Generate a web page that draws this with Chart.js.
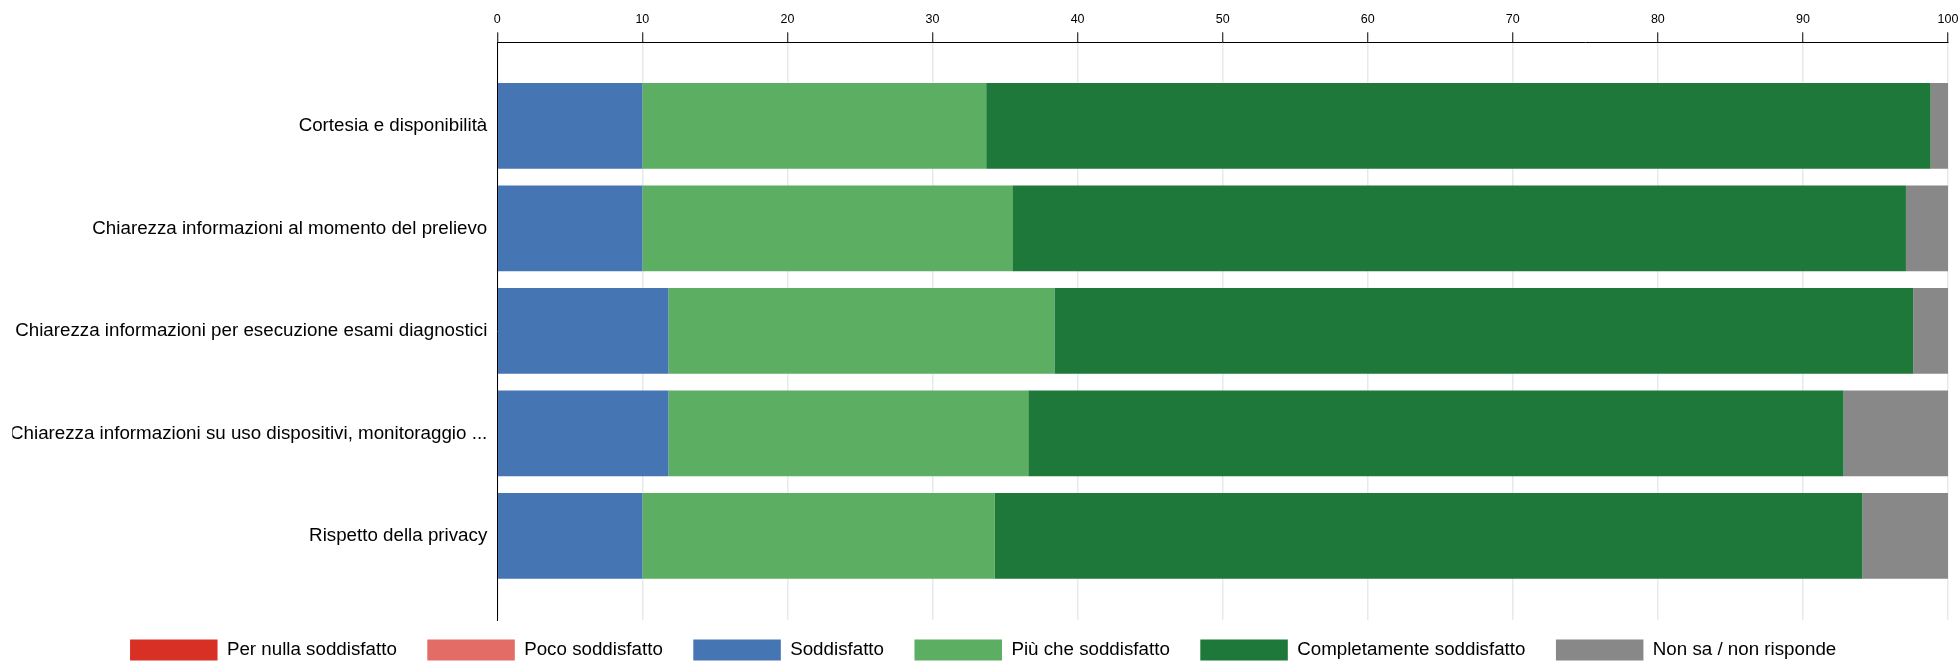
<!DOCTYPE html>
<html>
<head>
<meta charset="utf-8">
<title>Soddisfazione</title>
<script src="https://cdn.jsdelivr.net/npm/chart.js@4.4.1/dist/chart.umd.min.js"></script>
<style>
  html, body { margin: 0; padding: 0; background: #fff; width: 1959px; height: 661px; overflow: hidden; }
  #wrap { width: 1959px; height: 661px; position: relative; }
</style>
</head>
<body>
<div id="wrap"><canvas id="barchart"></canvas></div>
<script>
var categories = [
    "Cortesia e disponibilità",
    "Chiarezza informazioni al momento del prelievo",
    "Chiarezza informazioni per esecuzione esami diagnostici",
    "Chiarezza informazioni su uso dispositivi, monitoraggio ...",
    "Rispetto della privacy"
];
var perNulla      = [0, 0, 0, 0, 0];
var poco          = [0, 0, 0, 0, 0];
var soddisfatto   = [10.0, 10.0, 11.8, 11.8, 10.0];
var piuChe        = [23.7, 25.5, 26.6, 24.8, 24.3];
var completamente = [65.1, 61.6, 59.2, 56.2, 59.8];
var nonSa         = [1.2, 2.9, 2.4, 7.2, 5.9];
var xTicks = [0, 10, 20, 30, 40, 50, 60, 70, 80, 90, 100];

Chart.defaults.font.family = "'Liberation Sans', Arial, sans-serif";
Chart.defaults.color = '#000';

// lift the legend a bit closer to the plot (legend clips to its box, so keep bottom)
var legendLift = {
    id: 'legendLift',
    afterLayout: function(chart) {
        chart.legend.top -= 11;
    }
};

function ds(label, data, color) {
    return { label: label, data: data, backgroundColor: color, borderWidth: 0, stack: 'esito' };
}

var ctx = document.getElementById('barchart').getContext('2d');
var chart = new Chart(ctx, {
    type: 'bar',
    data: {
        labels: categories.map(function(c, i) { return i; }),
        datasets: [
            ds('Per nulla soddisfatto', perNulla, '#d93026'),
            ds('Poco soddisfatto', poco, '#e46c66'),
            ds('Soddisfatto', soddisfatto, '#4675b4'),
            ds('Più che soddisfatto', piuChe, '#5cae62'),
            ds('Completamente soddisfatto', completamente, '#1e7839'),
            ds('Non sa / non risponde', nonSa, '#888888')
        ]
    },
    plugins: [legendLift],
    options: {
        indexAxis: 'y',
        responsive: true,
        maintainAspectRatio: false,
        animation: false,
        devicePixelRatio: 1,
        layout: { padding: { left: 12.3, right: 5, top: 0, bottom: 0 } },
        datasets: { bar: { categoryPercentage: 0.836, barPercentage: 1 } },
        scales: {
            x: {
                position: 'top',
                stacked: true,
                min: 0,
                max: 100,
                afterBuildTicks: function(s) { s.ticks = xTicks.map(function(v) { return { value: v }; }); },
                afterFit: function(s) { s.height = 42.3; s.paddingRight = 11; },
                ticks: { font: { size: 12.5 }, padding: 5, color: '#000', maxRotation: 0 },
                grid: { color: '#e4ebee', lineWidth: 1.5, tickColor: '#000', tickLength: 10, tickWidth: 1 },
                border: { color: '#000', width: 1 }
            },
            y: {
                type: 'linear',
                reverse: true,
                offset: false,
                min: -0.815,
                max: 4.821,
                afterBuildTicks: function(s) { s.ticks = categories.map(function(c, i) { return { value: i }; }); },
                afterFit: function(s) { s.width = 485; },
                ticks: {
                    autoSkip: false,
                    padding: 10,
                    color: '#000',
                    font: { size: 18.75 },
                    callback: function(v) { return categories[v]; }
                },
                grid: { display: false, drawTicks: false },
                border: { display: true, color: '#000', width: 1 }
            }
        },
        plugins: {
            legend: {
                position: 'bottom',
                maxHeight: 41,
                labels: {
                    boxWidth: 87.5,
                    boxHeight: 21,
                    padding: 30.5,
                    color: '#000',
                    font: { size: 18.75 }
                }
            },
            tooltip: { enabled: false }
        }
    }
});
</script>
</body>
</html>
